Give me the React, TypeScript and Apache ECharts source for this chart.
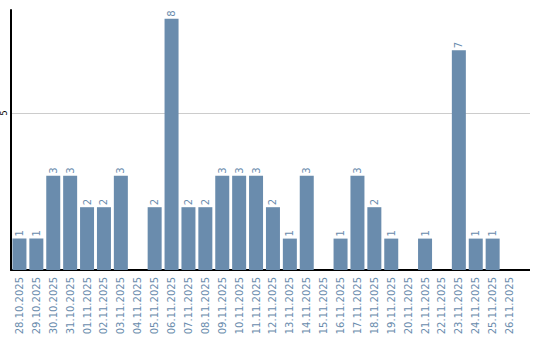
import React, { useEffect, useRef } from "react";
import * as echarts from "echarts";

const categories: string[] = [
  "28.10.2025", "29.10.2025", "30.10.2025", "31.10.2025", "01.11.2025", "02.11.2025",
  "03.11.2025", "04.11.2025", "05.11.2025", "06.11.2025", "07.11.2025", "08.11.2025",
  "09.11.2025", "10.11.2025", "11.11.2025", "12.11.2025", "13.11.2025", "14.11.2025",
  "15.11.2025", "16.11.2025", "17.11.2025", "18.11.2025", "19.11.2025", "20.11.2025",
  "21.11.2025", "22.11.2025", "23.11.2025", "24.11.2025", "25.11.2025", "26.11.2025",
];
const counts: (number | null)[] = [
  1, 1, 3, 3, 2, 2, 3, null, 2, 8, 2, 2, 3, 3, 3, 2, 1, 3, null, 1, 3, 2, 1, null, 1, null, 7, 1, 1, null,
];
const yTicks: number[] = [5];

const BLUE = "#6a8cad";
const FONT = "DejaVu Sans";

export default function App() {
  const ref = useRef<HTMLDivElement>(null);
  useEffect(() => {
    if (!ref.current) return;
    const chart = echarts.init(ref.current, null, { renderer: "svg" });
    chart.setOption({
      animation: false,
      grid: { left: 8, right: 22, top: 10, bottom: 70, containLabel: false },
      xAxis: {
        type: "category",
        data: categories,
        axisLine: { show: true, lineStyle: { color: "#000", width: 2 } },
        axisTick: { show: false },
        axisLabel: {
          interval: 0,
          rotate: 90,
          margin: 7,
          fontSize: 10,
          fontFamily: FONT,
          color: BLUE,
        },
      },
      yAxis: {
        type: "value",
        min: 0,
        max: 8.28,
        interval: 5,
        axisLine: { show: true, lineStyle: { color: "#000", width: 2 } },
        axisTick: { show: false },
        splitLine: {
          show: true,
          showMaxLine: false,
          showMinLine: false,
          lineStyle: { color: "#cccccc", width: 1 },
        },
        axisLabel: {
          rotate: 90,
          margin: 3,
          fontSize: 8,
          fontFamily: FONT,
          color: "#000",
          showMaxLabel: false,
          formatter: (v: number) => (yTicks.includes(v) ? String(v) : ""),
        },
      },
      graphic: [
        {
          type: "line",
          shape: { x1: 517, y1: 270, x2: 530, y2: 270 },
          style: { stroke: "#000", lineWidth: 2 },
        },
        {
          type: "line",
          shape: { x1: 517, y1: 113.5, x2: 530, y2: 113.5 },
          style: { stroke: "#cccccc", lineWidth: 1 },
        },
      ],
      series: [
        {
          type: "bar",
          data: counts,
          barWidth: 14,
          itemStyle: { color: BLUE },
          label: {
            show: true,
            position: "top",
            rotate: 90,
            align: "left",
            verticalAlign: "middle",
            distance: 2,
            fontSize: 10,
            fontFamily: FONT,
            color: BLUE,
          },
        },
      ],
    });
    return () => chart.dispose();
  }, []);
  return (
    <div
      ref={ref}
      style={{ position: "absolute", left: 0, top: 0, width: 540, height: 340 }}
    />
  );
}
